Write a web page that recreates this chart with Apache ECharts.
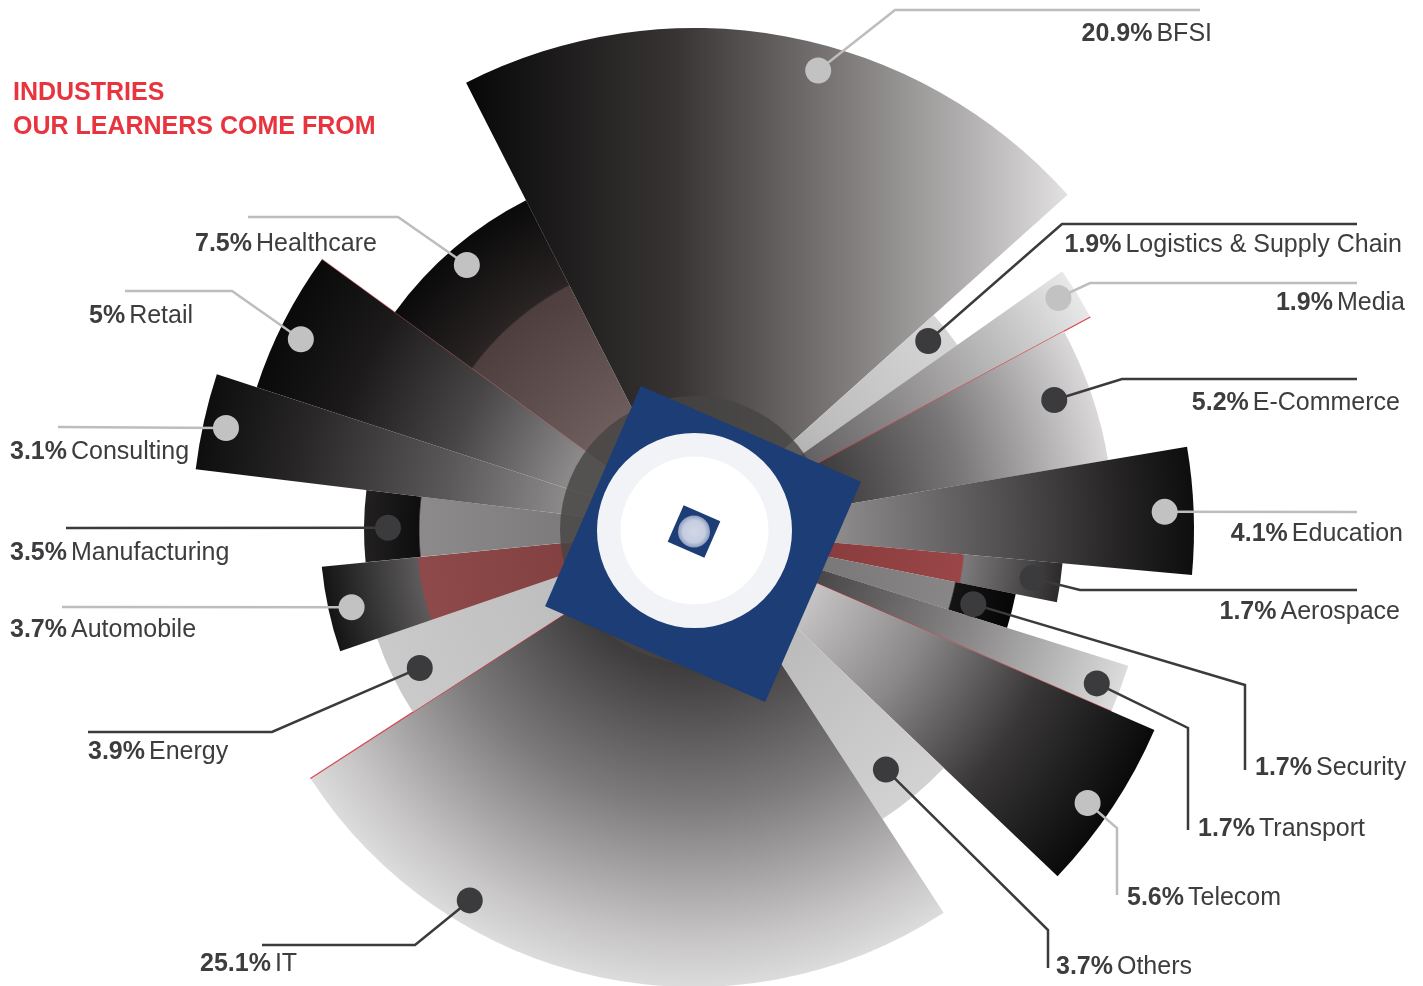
<!DOCTYPE html>
<html><head><meta charset="utf-8">
<script src="https://cdn.jsdelivr.net/npm/echarts@6/dist/echarts.min.js"></script>
<style>html,body{margin:0;padding:0;background:#fff}#c{width:1423px;height:986px}</style>
</head><body><div id="c"></div>
<script>
// ---------- data ----------
const industries = ['BFSI','Logistics & Supply Chain','Media','E-Commerce','Education','Aerospace','Security','Transport','Telecom','Others','IT','Energy','Automobile','Manufacturing','Consulting','Retail','Healthcare'];
const shares = [20.9,1.9,1.9,5.2,4.1,1.7,1.7,1.7,5.6,3.7,25.1,3.9,3.7,3.5,3.1,5,7.5];
const titleText = 'INDUSTRIES\nOUR LEARNERS COME FROM';

// ---------- style / layout ----------
const CENTER = [694, 530];
const START_ANGLE = 117;
const MAX_R = 520;
const FONT = 'Liberation Sans, Arial, Helvetica, sans-serif';
const DARK = '#3b3b3d', LIGHT = '#c2c2c2';
const sectorReach = [502,322,450,420,500,370,328,455,502,345,457,335,374,330,502,460,370];
const sectorShade = [
 {kind:'span',   stops:[[0,'#080808'],[0.35,'#383434'],[0.62,'#7c7878'],[0.85,'#b6b4b4'],[1,'#e2e0e0']]},
 {kind:'radial', stops:[[0,'#8e8e8e'],[0.5,'#bcbcbc'],[1,'#d6d6d6']]},
 {kind:'radial', stops:[[0.25,'#5a5858'],[0.6,'#9a9898'],[1,'#e8e8e8']]},
 {kind:'radial', stops:[[0.3,'#363434'],[0.65,'#7a7878'],[1,'#dad8d8']]},
 {kind:'radial', stops:[[0.28,'#8e8c8c'],[0.6,'#555353'],[0.85,'#262424'],[1,'#0e0e0e']]},
 {kind:'radial', stops:[[0,'#7a3232'],[0.73,'#9a4648'],[0.735,'#7c7a7a'],[1,'#2c2a2a']]},
 {kind:'radial', stops:[[0,'#6a6868'],[0.81,'#888686'],[0.815,'#141414'],[1,'#060606']]},
 {kind:'radial', stops:[[0.3,'#4a4848'],[0.65,'#8a8888'],[1,'#dcdcdc']]},
 {kind:'radial', stops:[[0.27,'#c4c2c2'],[0.5,'#8a8888'],[0.75,'#383636'],[1,'#0a0a0a']]},
 {kind:'radial', stops:[[0.4,'#bababa'],[1,'#d2d2d2']]},
 {kind:'radial', stops:[[0.3,'#3e3c3c'],[0.6,'#7c7a7a'],[0.9,'#c8c6c6'],[1,'#dcdcdc']]},
 {kind:'radial', stops:[[0.4,'#bdbdbd'],[1,'#cacaca']]},
 {kind:'radial', stops:[[0,'#7a3838'],[0.74,'#8e4a4a'],[0.745,'#5c5a5a'],[1,'#141414']]},
 {kind:'radial', stops:[[0,'#6e6c6c'],[0.83,'#8c8a8a'],[0.835,'#0e0e0e'],[1,'#222020']]},
 {kind:'radial', stops:[[0.27,'#8a8888'],[0.5,'#5a5858'],[0.8,'#282626'],[1,'#0e0e0e']]},
 {kind:'radial', stops:[[0.3,'#8a8888'],[0.55,'#484646'],[0.8,'#1c1a1a'],[1,'#0a0a0a']]},
 {kind:'radial', stops:[[0,'#8a7a7a'],[0.74,'#4e3e3e'],[0.745,'#2a2424'],[1,'#0a0a0a']]}
];
const redEdge = [null,null,'end',null,null,null,null,'end',null,null,'end',null,null,null,null,'end',null];
const redEdgeOpacity = [0,0,0.9,0,0,0,0,0.8,0,0,0.9,0,0,0,0,0.35,0];
const dotTone = ['light','dark','light','dark','light','dark','dark','dark','light','dark','dark','dark','light','dark','light','light','light'];
const dotPlace = [[0.561,476],[0.44,301],[0.38,432],[0.45,383],[0.5,471],[0.48,342],[0.59,289],[0.57,431],[0.56,479],[0.58,307],[0.713,433],[0.444,307],[0.467,351],[0.479,306],[0.48,479],[0.434,437],[0.495,349]];
const labelLayout = [
 {x:1212,y:34, align:'right',path:[[895,10],[1200,10]]},
 {x:1402,y:245,align:'right',path:[[1062,224],[1357,224]]},
 {x:1405,y:303,align:'right',path:[[1090,283],[1357,283]]},
 {x:1400,y:403,align:'right',path:[[1122,379],[1357,379]]},
 {x:1403,y:534,align:'right',path:[[1357,512]]},
 {x:1400,y:612,align:'right',path:[[1080,590],[1357,590]]},
 {x:1255,y:768,align:'left', path:[[1245,685],[1245,770]]},
 {x:1198,y:829,align:'left', path:[[1188,728],[1188,830]]},
 {x:1127,y:898,align:'left', path:[[1117,828],[1117,895]]},
 {x:1056,y:967,align:'left', path:[[1048,930],[1048,968]]},
 {x:200, y:964,align:'left', path:[[415,945],[262,945]]},
 {x:88,  y:752,align:'left', path:[[272,732],[88,732]]},
 {x:10,  y:630,align:'left', path:[[62,607]]},
 {x:10,  y:553,align:'left', path:[[66,528]]},
 {x:10,  y:452,align:'left', path:[[58,427]]},
 {x:89,  y:316,align:'left', path:[[232,291],[125,291]]},
 {x:195, y:244,align:'left', path:[[398,217],[248,217]]}
];

// ---------- build ----------
const total = shares.reduce((a,b)=>a+b,0);
let acc = 0;
const seriesData = industries.map((name,i)=>{
  const s = acc; acc += shares[i];
  return {name, value:[sectorReach[i], s, acc, shares[i]]};
});

function sectorItem(params, api){
  const i = params.dataIndex;
  const reach = api.value(0), a0 = api.value(1), a1 = api.value(2);
  const cs = params.coordSys, cx = cs.cx, cy = cs.cy;
  const p0 = api.coord([reach, a0]), p1 = api.coord([reach, a1]);
  let s = Math.atan2(p0[1]-cy, p0[0]-cx), e = Math.atan2(p1[1]-cy, p1[0]-cx);
  while (e <= s) e += Math.PI*2;
  const r = Math.hypot(p0[0]-cx, p0[1]-cy);
  const sh = sectorShade[i];
  const stops = sh.stops.map(st=>({offset:st[0], color:st[1]}));
  let fill;
  if (sh.kind === 'span') fill = {type:'linear', x:p0[0], y:p0[1], x2:p1[0], y2:p0[1], global:true, colorStops:stops};
  else fill = {type:'radial', x:cx, y:cy, r:r, global:true, colorStops:stops};
  const children = [{type:'sector', shape:{cx,cy,r0:0,r,startAngle:s,endAngle:e,clockwise:true}, style:{fill}}];
  if (redEdge[i]) {
    const p = redEdge[i]==='end' ? p1 : p0;
    children.push({type:'line', shape:{x1:cx,y1:cy,x2:p[0],y2:p[1]}, style:{stroke:'#d8343e', lineWidth:1.2, opacity:redEdgeOpacity[i]}});
  }
  return {type:'group', children};
}

function labelItem(params, api){
  const i = params.dataIndex;
  const a0 = api.value(1), a1 = api.value(2), v = api.value(3);
  const dp = dotPlace[i];
  const pt = api.coord([dp[1], a0 + (a1-a0)*dp[0]]);
  const L = labelLayout[i];
  const col = dotTone[i]==='dark' ? DARK : LIGHT;
  const lineCol = dotTone[i]==='dark' ? DARK : '#bdbdbd';
  return {type:'group', children:[
    {type:'polyline', shape:{points:[pt].concat(L.path)}, style:{stroke:lineCol, lineWidth:2.5, fill:null}},
    {type:'circle', shape:{cx:pt[0], cy:pt[1], r:13}, style:{fill:col}},
    {type:'text', style:{
      text:'{p|'+v+'%}{n|'+industries[i]+'}',
      x:L.x, y:L.y, align:L.align, verticalAlign:'middle',
      rich:{
        p:{fontFamily:FONT, fontSize:25, fontWeight:'bold', fill:'#3d3d3f'},
        n:{fontFamily:FONT, fontSize:25, fontWeight:'normal', fill:'#3d3d3f', padding:[0,0,0,4]}
      }}}
  ]};
}

const ROT = -23.5*Math.PI/180;
const chart = echarts.init(document.getElementById('c'), null, {renderer:'canvas'});
chart.setOption({
  animation:false,
  backgroundColor:'#ffffff',
  title:{text:titleText, left:8, top:71, textStyle:{fontFamily:FONT, fontSize:25, fontWeight:'bold', color:'#e8343f', lineHeight:34}},
  polar:{center:CENTER, radius:MAX_R},
  angleAxis:{type:'value', min:0, max:total, startAngle:START_ANGLE, clockwise:true, show:false},
  radiusAxis:{type:'value', min:0, max:MAX_R, show:false},
  series:[
    {type:'custom', coordinateSystem:'polar', renderItem:sectorItem, data:seriesData, z:2, silent:true},
    {type:'custom', coordinateSystem:'polar', renderItem:labelItem, data:seriesData, z:3, silent:true}
  ],
  graphic:[
    {type:'circle', z:100, shape:{cx:CENTER[0], cy:CENTER[1], r:134}, style:{fill:'rgba(70,68,68,0.8)'}},
    {type:'rect', z:101, x:CENTER[0]+9, y:CENTER[1]+14, rotation:ROT, shape:{x:-120,y:-120,width:240,height:240}, style:{fill:'#1c3d76'}},
    {type:'circle', z:102, shape:{cx:CENTER[0]+0.5, cy:CENTER[1]+0.5, r:97.5}, style:{fill:'#f1f3f7'}},
    {type:'circle', z:103, shape:{cx:CENTER[0]+0.5, cy:CENTER[1]+0.5, r:74}, style:{fill:'#ffffff'}},
    {type:'rect', z:104, x:CENTER[0], y:CENTER[1]+1.5, rotation:ROT, shape:{x:-20,y:-20,width:40,height:40}, style:{fill:'#1c3d76'}},
    {type:'circle', z:105, shape:{cx:CENTER[0], cy:CENTER[1]+1.5, r:16}, style:{fill:{type:'radial', x:0.5, y:0.5, r:0.5, colorStops:[{offset:0,color:'#d2d8e6'},{offset:0.7,color:'#c4cce0'},{offset:1,color:'#8e9cbc'}]}}}
  ]
});
</script></body></html>
